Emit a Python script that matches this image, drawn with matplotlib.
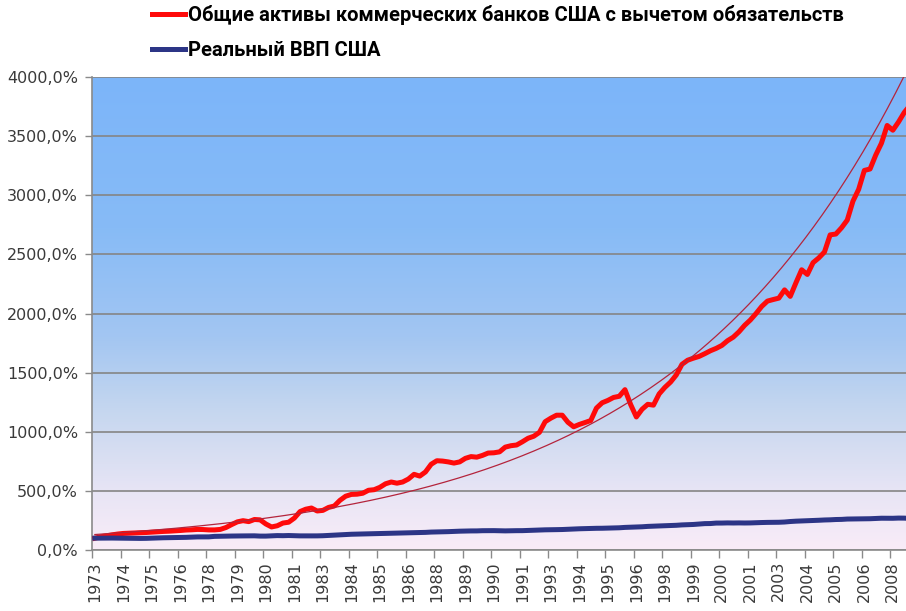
import numpy as np
import matplotlib
matplotlib.use('Agg')
import matplotlib.pyplot as plt
from matplotlib.colors import LinearSegmentedColormap
from matplotlib.lines import Line2D
from matplotlib import font_manager

# ---------------- data ----------------
series_names = ['Общие активы коммерческих банков США с вычетом обязательств',
                'Реальный ВВП США']

tick_labels = ['1973', '1974', '1975', '1976', '1978', '1979', '1980', '1981',
               '1983', '1984', '1985', '1986', '1988', '1989', '1990', '1991',
               '1993', '1994', '1995', '1996', '1998', '1999', '2000', '2001',
               '2003', '2004', '2005', '2006', '2008']

y_ticks = [0, 500, 1000, 1500, 2000, 2500, 3000, 3500, 4000]
y_tick_labels = ['0,0%', '500,0%', '1000,0%', '1500,0%', '2000,0%',
                 '2500,0%', '3000,0%', '3500,0%', '4000,0%']

# quarterly values, 1973Q1 ... 2008Q4 (percent of 1973 level)
bank_assets = [100, 112, 120, 128, 135, 140, 142, 144, 146, 148,
               151, 154, 157, 159, 162, 165, 169, 171, 174, 173,
               170, 170, 174, 190, 215, 238, 248, 240, 258, 255,
               220, 195, 205, 228, 235, 270, 325, 345, 355, 330,
               335, 360, 372, 420, 455, 470, 472, 480, 505, 510,
               530, 560, 575, 565, 575, 600, 640, 625, 660, 725,
               755, 752, 745, 735, 745, 775, 790, 785, 800, 820,
               822, 830, 870, 882, 888, 915, 945, 962, 995, 1085,
               1115, 1140, 1140, 1080, 1042, 1062, 1078, 1095, 1200, 1245,
               1265, 1290, 1300, 1356, 1230, 1125, 1190, 1232, 1225, 1320,
               1375, 1420, 1480, 1570, 1605, 1622, 1637, 1660, 1685, 1705,
               1730, 1770, 1800, 1845, 1900, 1945, 2000, 2060, 2105, 2118,
               2130, 2200, 2145, 2260, 2370, 2330, 2430, 2470, 2520, 2665,
               2672, 2725, 2790, 2950, 3050, 3210, 3222, 3340, 3440, 3590,
               3550, 3620, 3700, 3760]

real_gdp = [100, 100.5, 100.3, 101, 100.3, 99.9, 99.5, 98.8,
            98, 98.6, 100.3, 101.6, 103.5, 104.2, 104.7, 105.5,
            107, 108.9, 110.7, 110.6, 111.1, 115.3, 116.4, 117.8,
            118.1, 118.2, 119.2, 119.5, 119.9, 117.6, 117.5, 119.6,
            121.9, 121, 122.4, 121.2, 119.5, 119.9, 119.4, 119.5,
            120.7, 123.3, 125.6, 128.2, 130.8, 133.2, 134.4, 135.3,
            136.6, 137.8, 140, 141, 142.4, 143.1, 144.6, 145.4,
            146.3, 147.6, 149, 151.6, 152.5, 154.3, 155.2, 157.4,
            159.1, 160.3, 161.3, 161.5, 163.2, 163.8, 163.8, 162.4,
            161.7, 162.7, 163.5, 163.7, 165.5, 167, 168.7, 170.6,
            171.1, 172.2, 173.2, 175.4, 177.3, 179.5, 180.9, 182.9,
            183.5, 183.9, 185.4, 186.6, 187.9, 191.1, 192.8, 194.7,
            196.3, 199.6, 201.9, 203.4, 205.3, 206.3, 208.9, 212.2,
            214.1, 215.9, 219.1, 223.1, 223.8, 227.7, 227.9, 229.1,
            228.4, 229.1, 228.4, 229, 231, 232.3, 233.5, 233.6,
            234.6, 236.7, 240.9, 243.8, 245.5, 247.4, 249.4, 251.5,
            253.9, 255.3, 257.8, 258.8, 261.8, 262.5, 262.6, 264.5,
            264.5, 266.7, 268.7, 268.7, 268.2, 270, 269.5, 266.6]

RED = '#ff0a0a'
BLUE = '#2c3586'

# ---------------- figure ----------------
W, H = 906, 611
fig = plt.figure(figsize=(W / 100, H / 100), dpi=100)
ax = fig.add_axes([92 / W, (H - 550) / H, (906 - 92) / W, (550 - 77) / H])

q = np.arange(len(bank_assets))
tick_pos = np.arange(len(tick_labels)) * 5

# background gradient
grad_cmap = LinearSegmentedColormap.from_list('bg', [
    (0.0, '#f9ecf8'),
    (0.12, '#e8e5f5'),
    (0.30, '#c4d6ef'),
    (0.45, '#a3c6f2'),
    (0.68, '#87bbf6'),
    (1.0, '#7cb5fa')])
grad = np.linspace(0, 1, 256).reshape(-1, 1)
ax.imshow(grad, extent=[0, 1, 0, 1], transform=ax.transAxes, aspect='auto',
          cmap=grad_cmap, origin='lower', zorder=-2, interpolation='bilinear')

# series
ax.plot(q, bank_assets, color=RED, lw=3.6, zorder=3, solid_joinstyle='round')
ax.plot(q, real_gdp, color=BLUE, lw=3.6, zorder=4, solid_joinstyle='round')

# exponential trend line of bank assets (least squares in log space, as Excel)
b, a = np.polyfit(q, np.log(bank_assets), 1)
qq = np.linspace(0, q[-1], 400)
ax.plot(qq, np.exp(a + b * qq), color='#b4243c', lw=0.9, zorder=5)

ax.set_xlim(-0.5, -0.5 + 814 / 5.7)
ax.set_ylim(0, 4000)

# y axis
ax.set_yticks(y_ticks)
ax.set_yticklabels(y_tick_labels)
ax.yaxis.grid(True, color='#858585', lw=1.2)
ax.set_axisbelow(True)
ax.tick_params(axis='y', direction='out', length=5, width=1, color='#8a8a8a',
               labelsize=11.5, labelcolor='#3a3a3a', pad=5)

# x axis: tick marks between categories, labels at categories
ax.set_xticks(np.arange(-0.5, len(bank_assets), 5))
ax.set_xticklabels([])
ax.tick_params(axis='x', which='major', direction='out', length=6, width=1,
               color='#8a8a8a')
ax.set_xticks(tick_pos, minor=True)
ax.set_xticklabels(tick_labels, minor=True, rotation=90)
ax.tick_params(axis='x', which='minor', length=0, labelsize=11.5,
               labelcolor='#3a3a3a', pad=8)

for s in ['top', 'right']:
    ax.spines[s].set_visible(False)
for s in ['left', 'bottom']:
    ax.spines[s].set_color('#8a8a8a')
    ax.spines[s].set_linewidth(1.2)

# legend: fit bold font so the long entry spans ~661 px like the reference
names = {f.name for f in font_manager.fontManager.ttflist}
leg_family = 'Roboto' if 'Roboto' in names else 'DejaVu Sans'
probe = fig.text(0, 0, series_names[0], fontsize=15, family=leg_family,
                 weight='bold')
renderer = fig.canvas.get_renderer()
w_probe = probe.get_window_extent(renderer).width
probe.remove()
fs = 15 * 661 / w_probe
fs_px = fs * 100 / 72

handles = [Line2D([], [], color=RED, lw=3.6),
           Line2D([], [], color=BLUE, lw=3.6)]
fig.legend(handles, series_names, loc='upper left',
           bbox_to_anchor=(152 / W, 1 - (17 - 0.6 * fs_px) / H), frameon=False,
           prop=dict(family=leg_family, weight='bold', size=fs),
           handlelength=33 / fs_px, handletextpad=3 / fs_px,
           labelspacing=40 / fs_px - 1.2, borderaxespad=0, borderpad=0)

fig.savefig('out.png', dpi=100, facecolor='white')
